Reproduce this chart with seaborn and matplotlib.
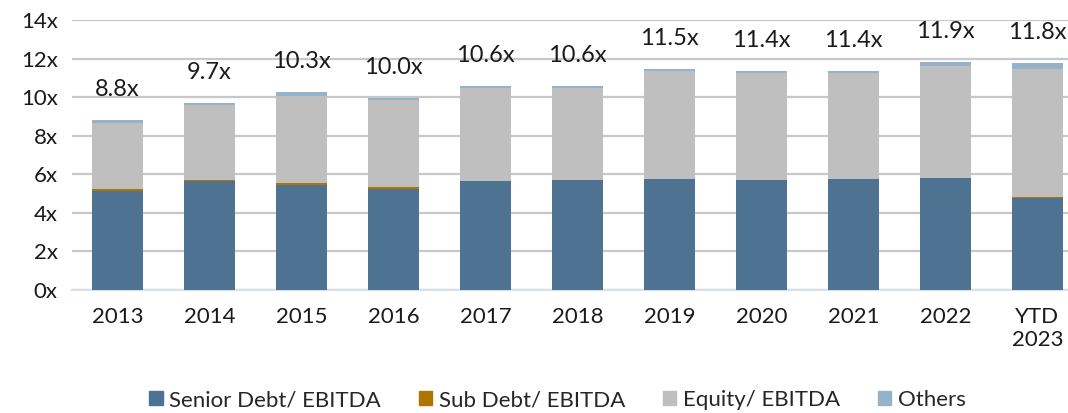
"""
Leverage multiples by year: stacked bars (senior / sub / equity / others)
"""
import pandas as pd
import matplotlib
matplotlib.use('Agg')
import matplotlib.pyplot as plt
import matplotlib.patches as mpatches
import seaborn as sns
import numpy as np

# Data
years = ['2013', '2014', '2015', '2016', '2017', '2018', '2019', '2020', '2021', '2022', 'YTD\n2023']
senior = [5.15, 5.65, 5.45, 5.25, 5.65, 5.72, 5.75, 5.70, 5.76, 5.83, 4.76]
sub = [0.10, 0.05, 0.10, 0.10, 0.02, 0.00, 0.02, 0.00, 0.00, 0.00, 0.07]
equity = [3.40, 3.90, 4.50, 4.50, 4.83, 4.78, 5.60, 5.55, 5.50, 5.80, 6.62]
others = [0.15, 0.10, 0.20, 0.12, 0.06, 0.06, 0.08, 0.12, 0.07, 0.17, 0.30]
total_labels = ['8.8x', '9.7x', '10.3x', '10.0x', '10.6x', '10.6x', '11.5x', '11.4x', '11.4x', '11.9x', '11.8x']

series_names = ['Senior Debt/ EBITDA', 'Sub Debt/ EBITDA', 'Equity/ EBITDA', 'Others']
colors = ['#4e7292', '#b07500', '#bfbfbf', '#94b3cb']

df = pd.DataFrame({'year': years, 'senior': senior, 'sub': sub,
                   'equity': equity, 'others': others})
df['c_senior'] = df['senior']
df['c_sub'] = df['c_senior'] + df['sub']
df['c_equity'] = df['c_sub'] + df['equity']
df['c_others'] = df['c_equity'] + df['others']

sns.set_style('white')
plt.rcParams['font.family'] = ['Lato', 'DejaVu Sans']

fig = plt.figure(figsize=(10.68, 4.13), dpi=100)
ax = fig.add_axes([71.5 / 1068, 123 / 413, 1012 / 1068, 270 / 413])

# stacked bars: draw cumulative totals from top layer down
for col, c in zip(['c_others', 'c_equity', 'c_sub', 'c_senior'], colors[::-1]):
    sns.barplot(data=df, x='year', y=col, order=years, color=c, width=0.55,
                errorbar=None, saturation=1, linewidth=0, ax=ax, zorder=3)

# total labels above bars
for i, lab in enumerate(total_labels):
    ax.annotate(lab, (i, df['c_others'][i]), xytext=(0, 22), textcoords='offset points',
                ha='center', va='center', fontsize=17, color='#1a1a1a')

ax.set_ylim(0, 14)
ax.set_xlim(-0.5, 10.5)
ax.set_yticks(np.arange(0, 15, 2))
ax.set_yticklabels([f'{v}x' for v in range(0, 15, 2)])
ax.set_xlabel('')
ax.set_ylabel('')
ax.tick_params(axis='y', length=0, pad=10, labelsize=16, colors='#1a1a1a')
ax.tick_params(axis='x', length=0, pad=12, labelsize=16, colors='#1a1a1a')
ax.grid(axis='y', color='#c8c8c8', linewidth=1.6, zorder=0)
ax.set_axisbelow(True)
for s in ['top', 'right', 'left']:
    ax.spines[s].set_visible(False)
ax.spines['bottom'].set_color('#d6e0ea')
ax.spines['bottom'].set_linewidth(1.5)

handles = [mpatches.Patch(color=c, label=n) for c, n in zip(colors, series_names)]
fig.legend(handles=handles, loc='center', bbox_to_anchor=(0.522, 0.031), ncol=4,
           frameon=False, fontsize=16, handlelength=0.6, handleheight=0.6,
           handletextpad=0.3, columnspacing=1.7)

plt.savefig('out.png', dpi=100)
plt.close()
